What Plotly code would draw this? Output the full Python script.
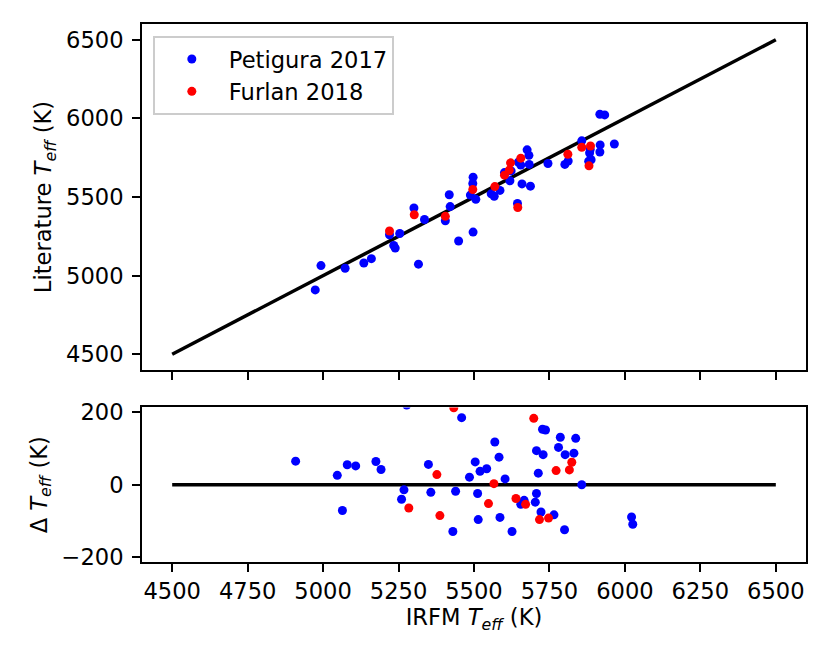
import plotly.graph_objects as go
from plotly.subplots import make_subplots

# ---- data ----
pet_lit = [4909, 5047, 5080, 5108, 5175, 5192, 5064, 5268, 5260, 5349, 5357, 5430,
           5439, 5459, 5277, 5504, 5485, 5520, 5542, 5512, 5514, 5569, 5583, 5603,
           5586, 5626, 5666, 5655, 5727, 5737, 5707, 5729, 5713, 5707, 5703, 5722,
           5765, 5800, 5786, 5837, 5780, 5802, 5831, 5857, 6022, 6026, 5073, 5220]
pet_irfm = [4974, 5073, 5135, 5160, 5239, 5234, 4993, 5254, 5220, 5405, 5336, 5301,
            5421, 5644, 5497, 5567, 5506, 5557, 5586, 5488, 5418, 5687, 5659, 5619,
            5496, 5497, 5623, 5601, 5880, 5888, 5801, 5812, 5745, 5683, 5655, 5647,
            5682, 5676, 5917, 5965, 5883, 5885, 5918, 5857, 5933, 5917, 5316, 5449]

fur_lit = [5284, 5377, 5387, 5433, 5566, 5548, 5639, 5671, 5698, 5717, 5747, 5772, 5816, 5824]
fur_irfm = [5220, 5405, 5302, 5645, 5569, 5496, 5601, 5617, 5881, 5621, 5655, 5811, 5857, 5886]

ref_line = [4500, 6500]
zero_line = [0, 0]

top_yticks = [4500, 5000, 5500, 6000, 6500]
bot_yticks = [-200, 0, 200]
xticks = [4500, 4750, 5000, 5250, 5500, 5750, 6000, 6250, 6500]

pet_res = [i - l for i, l in zip(pet_irfm, pet_lit)]
fur_res = [i - l for i, l in zip(fur_irfm, fur_lit)]

FS = 22.6
FONT = "DejaVu Sans"
W_PLOT = 830
H_PLOT = 664
MS = 9

fig = make_subplots(rows=2, cols=1, shared_xaxes=False, vertical_spacing=0.07)

# top panel
fig.add_trace(go.Scatter(x=ref_line, y=ref_line, mode="lines",
                         line=dict(color="black", width=3.5), showlegend=False, hoverinfo="skip"),
              row=1, col=1)
fig.add_trace(go.Scatter(x=pet_irfm, y=pet_lit, mode="markers", name="Petigura 2017",
                         marker=dict(color="#0000ff", size=MS, line=dict(width=0))),
              row=1, col=1)
fig.add_trace(go.Scatter(x=fur_irfm, y=fur_lit, mode="markers", name="Furlan 2018",
                         marker=dict(color="#ff0000", size=MS, line=dict(width=0))),
              row=1, col=1)

# bottom panel
fig.add_trace(go.Scatter(x=ref_line, y=zero_line, mode="lines",
                         line=dict(color="black", width=3.5), showlegend=False, hoverinfo="skip"),
              row=2, col=1)
fig.add_trace(go.Scatter(x=pet_lit, y=pet_res, mode="markers", showlegend=False,
                         marker=dict(color="#0000ff", size=MS, line=dict(width=0))),
              row=2, col=1)
fig.add_trace(go.Scatter(x=fur_lit, y=fur_res, mode="markers", showlegend=False,
                         marker=dict(color="#ff0000", size=MS, line=dict(width=0))),
              row=2, col=1)

axis_common = dict(showgrid=False, zeroline=False, showline=True, linecolor="black",
                   linewidth=1.8, mirror=True, ticks="outside", ticklen=8, tickwidth=1.8,
                   tickcolor="black", tickfont=dict(family=FONT, size=FS, color="black"))

fig.update_xaxes(**axis_common)
fig.update_yaxes(**axis_common)
fig.update_yaxes(ticklabelstandoff=4)

fig.update_layout(
    width=W_PLOT, height=H_PLOT,
    margin=dict(l=134, r=32, t=16, b=110, autoexpand=False),
    paper_bgcolor="white", plot_bgcolor="white",
    font=dict(family=FONT, size=FS, color="black"),
    xaxis=dict(domain=[0, 1], range=[4400, 6600], tickvals=xticks, showticklabels=False),
    yaxis=dict(domain=[0.3569, 1], range=[4400, 6600], tickvals=top_yticks,
               title=dict(text="Literature <i>T</i><sub><i>eff</i></sub> (K)",
                          font=dict(family=FONT, size=FS), standoff=8)),
    xaxis2=dict(domain=[0, 1], range=[4400, 6600], tickvals=xticks, matches="x",
                title=dict(text="IRFM <i>T</i><sub><i>eff</i></sub> (K)",
                           font=dict(family=FONT, size=FS), standoff=6)),
    yaxis2=dict(domain=[0, 0.2872], range=[-213, 213], tickvals=bot_yticks,
                title=dict(text="Δ <i>T</i><sub><i>eff</i></sub> (K)",
                           font=dict(family=FONT, size=FS), standoff=8)),
    legend=dict(x=0.0166, y=0.9777, xanchor="left", yanchor="top",
                bgcolor="rgba(255,255,255,0.8)", bordercolor="#cccccc", borderwidth=1.8,
                font=dict(family=FONT, size=FS, color="black"), itemwidth=64,
                tracegroupgap=0),
)

fig.write_html("out.html")
